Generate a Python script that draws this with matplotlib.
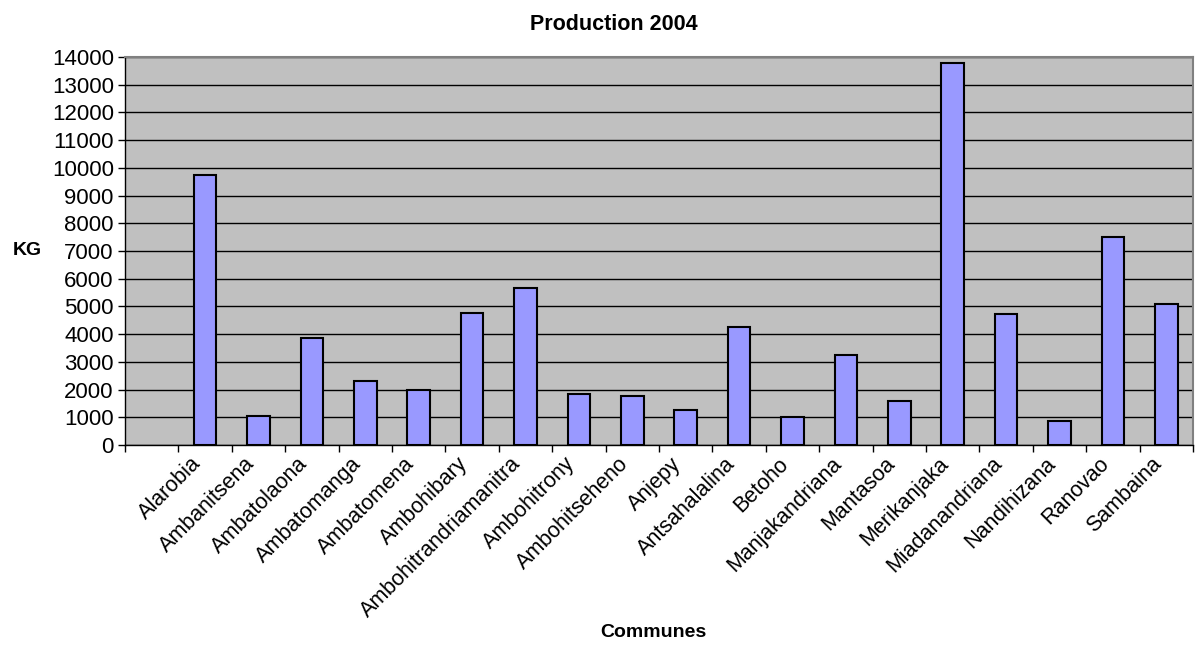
import numpy as np
import matplotlib
matplotlib.use("Agg")
import matplotlib.pyplot as plt

plt.rcParams['font.family'] = ['Liberation Sans', 'DejaVu Sans']

# production par commune, 2004 (kg)
communes = ['Alarobia', 'Ambanitsena', 'Ambatolaona', 'Ambatomanga', 'Ambatomena',
            'Ambohibary', 'Ambohitrandriamanitra', 'Ambohitrony', 'Ambohitseheno',
            'Anjepy', 'Antsahalalina', 'Betoho', 'Manjakandriana', 'Mantasoa',
            'Merikanjaka', 'Miadanandriana', 'Nandihizana', 'Ranovao', 'Sambaina']
production = [9750, 1050, 3850, 2300, 2000,
              4780, 5650, 1850, 1780,
              1260, 4250, 1000, 3250, 1600,
              13800, 4720, 870, 7500, 5100]
yticks = list(range(0, 14001, 1000))

fig = plt.figure(figsize=(11.96, 6.53), dpi=100)
ax = fig.add_axes([0.1045, 0.3185, 0.893, 0.5942])
ax.set_facecolor('#C0C0C0')

# first slot of the category axis is left empty
x = np.arange(1, len(communes) + 1)
ax.bar(x, production, width=0.42, color='#9999FF', edgecolor='black',
       linewidth=1.5, zorder=3)

ax.set_xlim(-0.5, len(communes) + 0.5)
ax.set_ylim(0, 14000)
ax.set_yticks(yticks)
ax.yaxis.grid(True, color='black', linewidth=1, zorder=1)

# tick marks between categories, labels under the bars
ax.set_xticks(np.arange(-0.5, len(communes) + 1, 1))
ax.set_xticklabels([])
ax.set_xticks(x, minor=True)
ax.set_xticklabels(communes, minor=True, rotation=45, ha='right', fontsize=15.5)
ax.tick_params(axis='x', which='minor', length=0, pad=6)
ax.tick_params(axis='x', which='major', length=5, width=1, color='black')
ax.tick_params(axis='y', length=5, width=1, labelsize=16, pad=3)

for side in ['top', 'right']:
    ax.spines[side].set_color('#808080')
    ax.spines[side].set_linewidth(1.5)
ax.spines['left'].set_linewidth(1)
ax.spines['bottom'].set_linewidth(1)

fig.text(0.513, 0.962, 'Production 2004', ha='center', va='center',
         fontsize=15.5, fontweight='bold')
fig.text(0.023, 0.617, 'KG', ha='center', va='center',
         fontsize=14, fontweight='bold')
fig.text(0.546, 0.019, 'Communes', ha='center', va='bottom',
         fontsize=14, fontweight='bold')

fig.savefig('out.png', dpi=100)
